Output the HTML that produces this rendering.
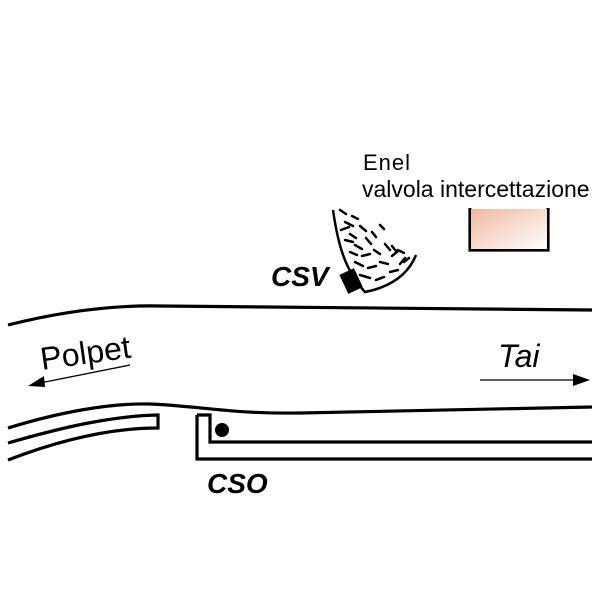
<!DOCTYPE html>
<html><head><style>body{margin:0;background:#fff}svg{display:block}</style></head><body>
<svg width="600" height="600" viewBox="0 0 600 600" xmlns="http://www.w3.org/2000/svg" font-family="Liberation Sans, sans-serif">
<defs><linearGradient id="g" x1="0" y1="0" x2="1" y2="1"><stop offset="0" stop-color="#f0b8a0"/><stop offset="1" stop-color="#fff"/></linearGradient></defs>
<g fill="none" stroke="#000" stroke-width="3.2">
<path d="M8,325 C60,312 110,305 160,306 C250,307 420,309 592,310"/>
<path d="M8,428 C60,412 110,403 150,404 C200,406 230,414 300,413 C400,411 500,408 592,407"/>
<path d="M8,443 C60,428 110,416 158,415 L158,428 C110,428 60,440 8,460"/>
<path d="M197,415 L197,459 L592,459"/>
<path d="M197,415 L210,415 L210,442 L592,442"/>
<path d="M470,208 L470,250 L548,250 L548,208"/>
<path d="M333,210 C338,245 345,270 365,292 C390,287 408,275 416,255" stroke-width="2.5"/>
</g>
<rect x="471" y="209" width="76" height="40" fill="url(#g)"/>
<circle cx="222" cy="430" r="7"/>
<rect x="343" y="271" width="16" height="21" transform="rotate(-25 350 281)"/>
<g stroke="#000" stroke-width="2.5" fill="none" stroke-linecap="round">
<path d="M340,210 l6,4 M345,222 l8,4 M352,216 l6,3 M341,230 l8,-3 M350,234 l6,4 M360,226 l6,5 M345,240 l8,2 M355,245 l7,4 M366,238 l5,6 M372,232 l4,5 M350,252 l7,3 M362,256 l8,-2 M374,250 l6,4 M385,244 l5,6 M355,262 l8,4 M368,268 l8,-2 M380,262 l8,2 M392,256 l6,-5 M360,275 l10,3 M376,280 l8,-3 M390,272 l8,-2 M400,264 l5,-6 M392,246 l4,5 M380,225 l4,4 M398,250 l6,3 M404,262 l5,-4"/>
</g>
<g stroke="#000" stroke-width="1.3">
<line x1="130" y1="365" x2="40" y2="383"/>
<line x1="480" y1="380" x2="575" y2="380"/>
</g>
<path d="M28,386 L44,376 L45,387 Z"/>
<path d="M590,380 L573,374 L573,386 Z"/>
<text x="42" y="370" font-size="32" transform="rotate(-8 42 370)">Polpet</text>
<text x="498" y="367" font-size="32" font-style="italic">Tai</text>
<text x="363" y="170" font-size="22" letter-spacing="1">Enel</text>
<text x="362" y="197" font-size="23">valvola intercettazione</text>
<text x="271" y="286" font-size="28" font-weight="bold" font-style="italic">CSV</text>
<text x="207" y="493" font-size="28" font-weight="bold" font-style="italic">CSO</text>
</svg>
</body></html>
